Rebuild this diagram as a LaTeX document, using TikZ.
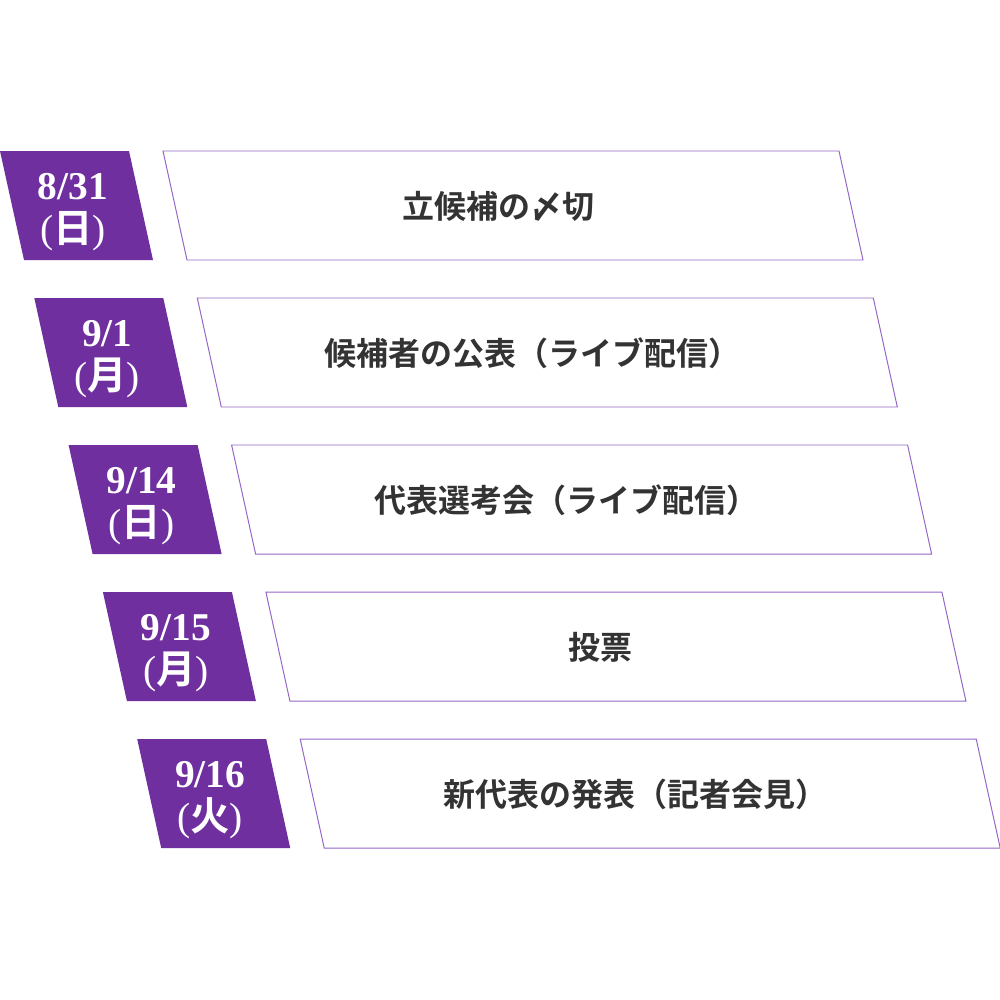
\documentclass[tikz,border=0pt]{standalone}
\usepackage{fontspec}
\newfontfamily\jpfont{Noto Sans CJK JP}[BoldFont={* Bold}]
\newfontfamily\numfont{Liberation Serif}
\definecolor{tagpurple}{HTML}{6F2F9E}
\definecolor{linepurple}{HTML}{9466C8}
\definecolor{txtgray}{HTML}{333333}
\tikzset{
  tagfill/.style={fill=tagpurple},
  boxframe/.style={draw=linepurple, line width=0.28pt, fill=white},
  datelabel/.style={text=white, align=center, font=\fontsize{11.2}{12.2}\selectfont\bfseries\numfont, inner sep=0pt},
  eventlabel/.style={text=txtgray, font=\fontsize{9.1}{10}\selectfont\jpfont\bfseries, inner sep=0pt}
}
\begin{document}
\begin{tikzpicture}[x=0.01cm,y=-0.01cm]
\useasboundingbox (0,0) rectangle (1000,1000);
\fill[white] (0,0) rectangle (1000,1000);
\foreach \i/\mydate/\myday/\myevent in {0/8\slash 31/日/立候補の〆切,
                            1/9\slash 1/月/候補者の公表（ライブ配信）,
                            2/9\slash 14/日/代表選考会（ライブ配信）,
                            3/9\slash 15/月/投票,
                            4/9\slash 16/火/新代表の発表（記者会見）}{
  \pgfmathsetmacro{\dx}{34.3*\i}
  \pgfmathsetmacro{\ya}{151+147*\i}
  \pgfmathsetmacro{\yb}{\ya+109}
  \fill[tagfill] (\dx,\ya) -- (\dx+129,\ya) -- (\dx+153,\yb) -- (\dx+24,\yb) -- cycle;
  \draw[boxframe] (\dx+163,\ya) -- (\dx+839,\ya) -- (\dx+863,\yb) -- (\dx+187,\yb) -- cycle;
  \node[datelabel] (date\i) at (\dx+73,\ya+61) {\mydate\\{\mdseries(}{\jpfont\bfseries\myday}{\mdseries)}};
  \node[eventlabel] (event\i) at (\dx+498,\ya+55) {\myevent};
}
\end{tikzpicture}
\end{document}
